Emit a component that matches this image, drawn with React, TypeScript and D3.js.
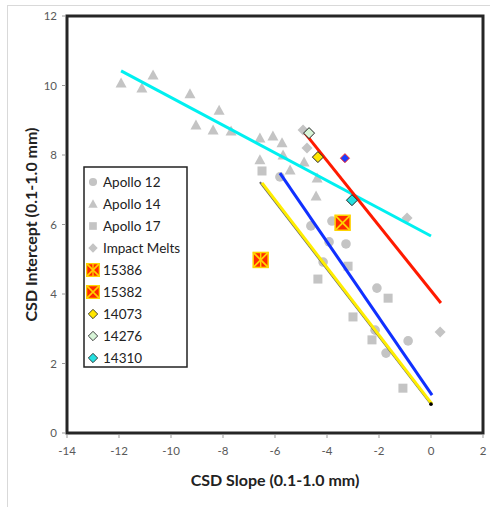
import React from "react";
import * as d3 from "d3";

const apollo12: [number, number][] = [
  [-5.81, 7.37], [-4.62, 5.96], [-3.81, 6.1], [-3.92, 5.5], [-3.27, 5.44],
  [-4.15, 4.92], [-2.08, 4.17], [-0.88, 2.65], [-1.73, 2.3], [-2.15, 2.96],
];
const apollo14: [number, number][] = [
  [-11.92, 10.07], [-11.12, 9.93], [-10.69, 10.3], [-9.27, 9.76], [-9.04, 8.86],
  [-8.38, 8.72], [-8.15, 9.29], [-7.69, 8.69], [-6.58, 8.49], [-6.08, 8.55],
  [-5.73, 8.35], [-6.58, 7.86], [-5.69, 8.0], [-5.42, 7.57], [-4.88, 7.8],
  [-4.38, 7.34], [-4.42, 6.82],
];
const apollo17: [number, number][] = [
  [-6.5, 7.54], [-3.19, 4.8], [-4.35, 4.43], [-1.65, 3.88], [-3.0, 3.34],
  [-2.27, 2.68], [-1.08, 1.29],
];
const impactMelts: [number, number][] = [
  [-4.92, 8.72], [-4.77, 8.2], [-0.92, 6.19], [0.35, 2.91],
];
const s15386: [number, number][] = [[-6.55, 4.98]];
const s15382: [number, number][] = [[-3.4, 6.05]];
const s14073: [number, number][] = [[-4.35, 7.94]];
const s14276: [number, number][] = [[-4.69, 8.63]];
const s14310: [number, number][] = [[-3.04, 6.7]];
const extraBlue: [number, number][] = [[-3.31, 7.91]];

const lineCyan: [number, number][] = [[-11.92, 10.42], [0, 5.67]];
const lineRed: [number, number][] = [[-4.85, 8.63], [0.38, 3.74]];
const lineBlue: [number, number][] = [[-5.81, 7.48], [0.04, 1.09]];
const lineBlack: [number, number][] = [[-6.58, 7.22], [0.0, 0.83]];
const lineYellow: [number, number][] = [[-6.5, 7.2], [0.04, 0.83]];

const xTicks = [-14, -12, -10, -8, -6, -4, -2, 0, 2];
const yTicks = [0, 2, 4, 6, 8, 10, 12];
const legendLabels = ["Apollo 12", "Apollo 14", "Apollo 17", "Impact Melts", "15386", "15382", "14073", "14276", "14310"];

const GRAY = "#c4c4c4";
const FONT = "Lato, 'Open Sans', sans-serif";

function Marker({ kind, x, y }: { kind: string; x: number; y: number }) {
  if (kind === "circle") return <circle cx={x} cy={y} r={4.8} fill={GRAY} />;
  if (kind === "tri")
    return <path d={`M${x},${y - 5.5}L${x + 5.5},${y + 4.5}L${x - 5.5},${y + 4.5}Z`} fill={GRAY} />;
  if (kind === "square") return <rect x={x - 4.5} y={y - 4.5} width={9} height={9} fill={GRAY} />;
  if (kind === "diamond")
    return <path d={`M${x},${y - 5.5}L${x + 5.5},${y}L${x},${y + 5.5}L${x - 5.5},${y}Z`} fill={GRAY} />;
  if (kind === "x15386" || kind === "x15382") {
    const h = 7.5;
    return (
      <g>
        <rect x={x - h} y={y - h} width={2 * h} height={2 * h} fill="#ff2a00" stroke="#ffd400" strokeWidth={1.5} />
        <path d={`M${x - h},${y - h}L${x + h},${y + h}M${x + h},${y - h}L${x - h},${y + h}`} stroke="#ffd400" strokeWidth={1.8} />
        {kind === "x15386" && <path d={`M${x},${y - h}L${x},${y + h}`} stroke="#ffd400" strokeWidth={1.5} />}
      </g>
    );
  }
  const fills: Record<string, string> = { d14073: "#ffe600", d14276: "#d8f5d8", d14310: "#26e0e0", blue: "#1a3cff" };
  const stroke = kind === "blue" ? "#ff2020" : "#222";
  const r = kind === "blue" ? 4.5 : 5.5;
  return (
    <path d={`M${x},${y - r}L${x + r},${y}L${x},${y + r}L${x - r},${y}Z`} fill={fills[kind]} stroke={stroke} strokeWidth={1} />
  );
}

export default function App() {
  const x = d3.scaleLinear().domain([-14, 2]).range([67, 483]);
  const y = d3.scaleLinear().domain([0, 12]).range([433, 16]);
  const line = d3.line<[number, number]>().x((d) => x(d[0])).y((d) => y(d[1]));

  const series: [string, [number, number][]][] = [
    ["circle", apollo12], ["tri", apollo14], ["square", apollo17], ["diamond", impactMelts],
  ];
  const legendKinds = ["circle", "tri", "square", "diamond", "x15386", "x15382", "d14073", "d14276", "d14310"];

  return (
    <svg width={490} height={507} style={{ position: "absolute", left: 0, top: 0 }} fontFamily={FONT}>
      <rect x={0} y={0} width={490} height={507} fill="#fff" />
      <rect x={7.5} y={5.5} width={490} height={510} fill="none" stroke="#d9d9d9" />
      {series.map(([k, pts]) => pts.map((p, i) => <Marker key={k + i} kind={k} x={x(p[0])} y={y(p[1])} />))}
      <path d={line(lineCyan)!} stroke="#00f0f0" strokeWidth={3} fill="none" />
      <path d={line(lineRed)!} stroke="#ff1a00" strokeWidth={3} fill="none" />
      <path d={line(lineBlue)!} stroke="#1030ff" strokeWidth={3} fill="none" />
      <path d={line(lineBlack)!} stroke="#666" strokeWidth={2} fill="none" />
      <path d={line(lineYellow)!} stroke="#ffee00" strokeWidth={3} fill="none" />
      <circle cx={x(lineBlack[1][0])} cy={y(lineBlack[1][1])} r={1.8} fill="#000" />
      {s14276.map((p, i) => <Marker key={"a" + i} kind="d14276" x={x(p[0])} y={y(p[1])} />)}
      {s14073.map((p, i) => <Marker key={"b" + i} kind="d14073" x={x(p[0])} y={y(p[1])} />)}
      {s14310.map((p, i) => <Marker key={"c" + i} kind="d14310" x={x(p[0])} y={y(p[1])} />)}
      {extraBlue.map((p, i) => <Marker key={"e" + i} kind="blue" x={x(p[0])} y={y(p[1])} />)}
      {s15386.map((p, i) => <Marker key={"f" + i} kind="x15386" x={x(p[0])} y={y(p[1])} />)}
      {s15382.map((p, i) => <Marker key={"g" + i} kind="x15382" x={x(p[0])} y={y(p[1])} />)}
      <rect x={x(-14)} y={y(12)} width={x(2) - x(-14)} height={y(0) - y(12)} fill="none" stroke="#262626" strokeWidth={3} />
      {xTicks.map((t) => (
        <g key={"xt" + t}>
          <line x1={x(t)} x2={x(t)} y1={y(0) + 1.5} y2={y(0) + 5} stroke="#999" />
          <text x={x(t)} y={y(0) + 22} textAnchor="middle" fontSize={11.5} fill="#595959">{t}</text>
        </g>
      ))}
      {yTicks.map((t) => (
        <g key={"yt" + t}>
          <line x1={x(-14) - 5} x2={x(-14) - 1.5} y1={y(t)} y2={y(t)} stroke="#999" />
          <text x={x(-14) - 10} y={y(t) + 4} textAnchor="end" fontSize={11.5} fill="#595959">{t}</text>
        </g>
      ))}
      <text x={275} y={486} textAnchor="middle" fontSize={16} fontWeight="bold" fill="#222">CSD Slope (0.1-1.0 mm)</text>
      <text transform={`translate(37,${y(6)}) rotate(-90)`} textAnchor="middle" fontSize={16} fontWeight="bold" fill="#222">
        CSD Intercept (0.1-1.0 mm)
      </text>
      <g>
        <rect x={84} y={167} width={103} height={200} fill="#fff" stroke="#222" strokeWidth={1.5} />
        {legendLabels.map((lab, i) => {
          const ly = 182 + i * 22;
          return (
            <g key={lab}>
              <g transform={`translate(93,${ly}) scale(0.85) translate(-93,${-ly})`}>
                <Marker kind={legendKinds[i]} x={93} y={ly} />
              </g>
              <text x={103} y={ly + 5} fontSize={13.5} fill="#222">{lab}</text>
            </g>
          );
        })}
      </g>
    </svg>
  );
}
